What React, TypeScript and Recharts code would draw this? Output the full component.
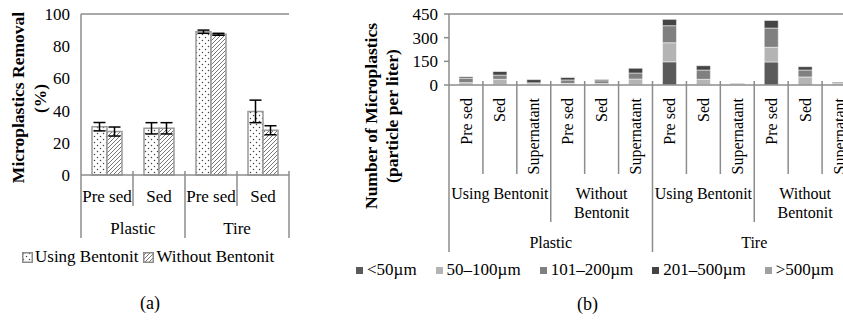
import React from 'react'
import { BarChart, Bar, XAxis, YAxis, ErrorBar, ReferenceLine, Label } from 'recharts'

const FONT = '"Liberation Serif", "Times New Roman", Times, serif'
const LINE = '#8c8c8c'

// (a) removal efficiency
const removalStages = ['Pre sed', 'Sed', 'Pre sed', 'Sed']
const removalMaterials = ['Plastic', 'Plastic', 'Tire', 'Tire']
const usingBentonit = [30, 29, 89, 39.5]
const usingBentonitErr = [2.6, 3.5, 1, 7]
const withoutBentonit = [27, 29, 87.4, 27.8]
const withoutBentonitErr = [2.8, 3.5, 0.6, 2.8]
const removalTicks = [0, 20, 40, 60, 80, 100]
const removalSeries = ['Using Bentonit', 'Without Bentonit']

// (b) particle counts by size class
const countStages = ['Pre sed', 'Sed', 'Supernatant', 'Pre sed', 'Sed', 'Supernatant', 'Pre sed', 'Sed', 'Supernatant', 'Pre sed', 'Sed', 'Supernatant']
const countTreatments = ['Using Bentonit', 'Using Bentonit', 'Using Bentonit', 'Without Bentonit', 'Without Bentonit', 'Without Bentonit', 'Using Bentonit', 'Using Bentonit', 'Using Bentonit', 'Without Bentonit', 'Without Bentonit', 'Without Bentonit']
const countMaterials = ['Plastic', 'Plastic', 'Plastic', 'Plastic', 'Plastic', 'Plastic', 'Tire', 'Tire', 'Tire', 'Tire', 'Tire', 'Tire']
const under50 = [5, 2, 5, 5, 4, 2, 147, 3, 3, 146, 0, 5]
const from50to100 = [10, 34, 3, 5, 6, 36, 121, 33, 2, 93, 51, 3]
const from101to200 = [27, 27, 6, 22, 17, 38, 108, 59, 3, 122, 44, 6]
const from201to500 = [10, 24, 20, 17, 9, 30, 40, 27, 3, 48, 21, 5]
const over500 = [3, 2, 0, 2, 2, 0, 0, 0, 0, 0, 0, 0]
const sizeClasses = ['<50µm', '50–100µm', '101–200µm', '201–500µm', '>500µm']
const sizeKeys = ['under50', 'from50to100', 'from101to200', 'from201to500', 'over500']
const sizeColors = ['#5a5a5a', '#b4b4b4', '#808080', '#444444', '#a0a0a0']
const countTicks = [0, 150, 300, 450]

const removalData = removalStages.map((stage, i) => ({
  id: i,
  stage,
  material: removalMaterials[i],
  using: usingBentonit[i],
  usingErr: usingBentonitErr[i],
  without: withoutBentonit[i],
  withoutErr: withoutBentonitErr[i],
}))

const countData = countStages.map((stage, i) => ({
  id: i,
  stage,
  treatment: countTreatments[i],
  material: countMaterials[i],
  under50: under50[i],
  from50to100: from50to100[i],
  from101to200: from101to200[i],
  from201to500: from201to500[i],
  over500: over500[i],
}))

// chart geometry
const A_W = 300
const A_H = 320
const A_MARGIN = { top: 14, right: 11, bottom: 0, left: 0 }
const A_YW = 81
const A_PLOT_W = A_W - A_MARGIN.left - A_MARGIN.right - A_YW

const B_W = 530
const B_H = 320
const B_MARGIN = { top: 14, right: 14, bottom: 0, left: 0 }
const B_YW = 109
const B_PLOT_W = B_W - B_MARGIN.left - B_MARGIN.right - B_YW

function PatternDefs({ suffix }: { suffix: string }) {
  return (
    <defs>
      <pattern id={'dots' + suffix} width="6" height="6" patternUnits="userSpaceOnUse">
        <rect width="6" height="6" fill="#fff" />
        <circle cx="1.5" cy="1.5" r="0.75" fill="#444" />
        <circle cx="4.5" cy="4.5" r="0.75" fill="#444" />
      </pattern>
      <pattern id={'hatch' + suffix} width="4" height="4" patternUnits="userSpaceOnUse">
        <rect width="4" height="4" fill="#fff" />
        <path d="M-1,1 l2,-2 M0,4 l4,-4 M3,5 l2,-2" stroke="#666" strokeWidth="0.9" />
      </pattern>
    </defs>
  )
}

function RemovalTick(props: any) {
  const { x, y, index } = props
  const i = index
  const bw = A_PLOT_W / removalStages.length
  const n = removalStages.length
  const lastInMaterial = i === n - 1 || removalMaterials[i + 1] !== removalMaterials[i]
  const firstInMaterial = i === 0 || removalMaterials[i - 1] !== removalMaterials[i]
  let span = 0
  if (firstInMaterial) {
    while (i + span < n && removalMaterials[i + span] === removalMaterials[i]) span++
  }
  return (
    <g>
      <text x={x} y={y + 21} textAnchor="middle" dominantBaseline="central" fontSize={17} fontFamily={FONT} fill="#000">
        {removalStages[i]}
      </text>
      <line x1={x + bw / 2} x2={x + bw / 2} y1={y - 4} y2={y + (lastInMaterial ? 63 : 31)} stroke={LINE} strokeWidth={1.5} />
      {i === 0 && <line x1={x - bw / 2} x2={x - bw / 2} y1={y} y2={y + 63} stroke={LINE} strokeWidth={1.5} />}
      {firstInMaterial && (
        <text x={x - bw / 2 + (span * bw) / 2} y={y + 53} textAnchor="middle" dominantBaseline="central" fontSize={17} fontFamily={FONT} fill="#000">
          {removalMaterials[i]}
        </text>
      )}
    </g>
  )
}

function CountTick(props: any) {
  const { x, y, index } = props
  const i = index
  const n = countStages.length
  const bw = B_PLOT_W / n
  const groupOf = (k: number) => countMaterials[k] + '|' + countTreatments[k]
  const lastInGroup = i === n - 1 || groupOf(i + 1) !== groupOf(i)
  const lastInMaterial = i === n - 1 || countMaterials[i + 1] !== countMaterials[i]
  const firstInGroup = i === 0 || groupOf(i - 1) !== groupOf(i)
  const firstInMaterial = i === 0 || countMaterials[i - 1] !== countMaterials[i]
  let groupSpan = 0
  if (firstInGroup) while (i + groupSpan < n && groupOf(i + groupSpan) === groupOf(i)) groupSpan++
  let matSpan = 0
  if (firstInMaterial) while (i + matSpan < n && countMaterials[i + matSpan] === countMaterials[i]) matSpan++
  const sepEnd = lastInMaterial ? 167 : lastInGroup ? 137 : 89
  const groupLabel = countTreatments[i]
  const groupLines = groupLabel.length * 7 > groupSpan * bw ? groupLabel.split(' ') : [groupLabel]
  return (
    <g>
      <text
        transform={`translate(${x},${y + 13}) rotate(-90)`}
        textAnchor="end"
        dy="0.35em"
        fontSize={16}
        fontFamily={FONT}
        fill="#000"
      >
        {countStages[i]}
      </text>
      <line x1={x + bw / 2} x2={x + bw / 2} y1={y - 4} y2={y + sepEnd} stroke={LINE} strokeWidth={1.5} />
      {i === 0 && <line x1={x - bw / 2} x2={x - bw / 2} y1={y} y2={y + 167} stroke={LINE} strokeWidth={1.5} />}
      {firstInGroup &&
        groupLines.map((line, k) => (
          <text key={k} x={x - bw / 2 + (groupSpan * bw) / 2} y={y + 108 + k * 19} textAnchor="middle" dominantBaseline="central" fontSize={16} fontFamily={FONT} fill="#000">
            {line}
          </text>
        ))}
      {firstInMaterial && (
        <text x={x - bw / 2 + (matSpan * bw) / 2} y={y + 157} textAnchor="middle" dominantBaseline="central" fontSize={16} fontFamily={FONT} fill="#000">
          {countMaterials[i]}
        </text>
      )}
    </g>
  )
}

function RemovalTitle(props: any) {
  const vb = props.viewBox || { x: 0, y: 14, width: A_YW, height: 161 }
  const cy = vb.y + vb.height / 2
  return (
    <g fontFamily={FONT} fontSize={17.5} fontWeight="bold" fill="#000">
      <text transform={`translate(${vb.x + 18},${cy + 3}) rotate(-90)`} textAnchor="middle" dominantBaseline="central">
        Microplastics Removal
      </text>
      <text transform={`translate(${vb.x + 40},${cy + 4}) rotate(-90)`} textAnchor="middle" dominantBaseline="central">
        (%)
      </text>
    </g>
  )
}

function CountTitle(props: any) {
  const vb = props.viewBox || { x: 0, y: 14 }
  return (
    <g fontFamily={FONT} fontSize={17.5} fontWeight="bold" fill="#000">
      <text transform={`translate(${vb.x + 31},${116}) rotate(-90)`} textAnchor="middle" dominantBaseline="central">
        Number of Microplastics
      </text>
      <text transform={`translate(${vb.x + 52},${116}) rotate(-90)`} textAnchor="middle" dominantBaseline="central">
        (particle per liter)
      </text>
    </g>
  )
}

const tickStyle = { fontSize: 17, fontFamily: FONT, fill: '#000' }

export default function App() {
  return (
    <div style={{ position: 'absolute', left: 0, top: 0, width: 843, height: 320, overflow: 'hidden', background: '#fff', fontFamily: FONT, color: '#000' }}>
      {/* (a) */}
      <div style={{ position: 'absolute', left: 0, top: 0 }}>
        <BarChart width={A_W} height={A_H} data={removalData} margin={A_MARGIN} barSize={15} barGap={0}>
          <PatternDefs suffix="A" />
          <XAxis dataKey="id" interval={0} height={145} tickLine={false} tickSize={0} tickMargin={0} axisLine={{ stroke: LINE, strokeWidth: 1.5 }} tick={<RemovalTick />} />
          <YAxis domain={[0, 100]} ticks={removalTicks} interval={0} width={A_YW} tickLine={false} tickSize={0} tickMargin={11} axisLine={{ stroke: LINE, strokeWidth: 1.5 }} tick={tickStyle}>
            <Label content={<RemovalTitle />} />
          </YAxis>
          <YAxis yAxisId="frame" orientation="right" domain={[0, 100]} width={0} tick={false} tickLine={false} axisLine={{ stroke: LINE, strokeWidth: 1.5 }} />
          <ReferenceLine y={100} stroke={LINE} strokeWidth={1.5} />
          <Bar dataKey="using" name={removalSeries[0]} fill="url(#dotsA)" stroke="#9a9a9a" strokeWidth={1.5} isAnimationActive={false}>
            <ErrorBar dataKey="usingErr" width={6} stroke="#000" strokeWidth={1.5} direction="y" />
          </Bar>
          <Bar dataKey="without" name={removalSeries[1]} fill="url(#hatchA)" stroke="#9a9a9a" strokeWidth={1.5} isAnimationActive={false}>
            <ErrorBar dataKey="withoutErr" width={6} stroke="#000" strokeWidth={1.5} direction="y" />
          </Bar>
        </BarChart>
        <div style={{ position: 'absolute', left: 22, top: 246, display: 'flex', alignItems: 'center', fontSize: 17, whiteSpace: 'nowrap', lineHeight: '22px' }}>
          {removalSeries.map((name, k) => (
            <span key={name} style={{ display: 'flex', alignItems: 'center', marginRight: 5 }}>
              <svg width={11} height={11} style={{ marginRight: 2 }}>
                <PatternDefs suffix={'L' + k} />
                <rect x={0.75} y={0.75} width={9.5} height={9.5} fill={`url(#${k === 0 ? 'dots' : 'hatch'}L${k})`} stroke="#8c8c8c" strokeWidth={1.5} />
              </svg>
              {name}
            </span>
          ))}
        </div>
        <div style={{ position: 'absolute', left: 0, width: A_W, top: 292, textAlign: 'center', fontSize: 18, lineHeight: '22px' }}>(a)</div>
      </div>

      {/* (b) */}
      <div style={{ position: 'absolute', left: 340, top: 0 }}>
        <BarChart width={B_W} height={B_H} data={countData} margin={B_MARGIN} barSize={14}>
          <XAxis dataKey="id" interval={0} height={235} tickLine={false} tickSize={0} tickMargin={0} axisLine={{ stroke: LINE, strokeWidth: 1.5 }} tick={<CountTick />} />
          <YAxis domain={[0, 450]} ticks={countTicks} interval={0} width={B_YW} tickSize={5} tickMargin={6} tickLine={{ stroke: LINE, strokeWidth: 1.5 }} axisLine={{ stroke: LINE, strokeWidth: 1.5 }} tick={tickStyle}>
            <Label content={<CountTitle />} />
          </YAxis>
          <ReferenceLine y={450} stroke={LINE} strokeWidth={1.5} />
          {sizeKeys.map((key, k) => (
            <Bar key={key} dataKey={key} name={sizeClasses[k]} stackId="size" fill={sizeColors[k]} stroke="#ffffff" strokeWidth={0.5} isAnimationActive={false} />
          ))}
        </BarChart>
        <div style={{ position: 'absolute', left: 16, top: 259, display: 'flex', alignItems: 'center', fontSize: 17, whiteSpace: 'nowrap', lineHeight: '22px' }}>
          {sizeClasses.map((name, k) => (
            <span key={name} style={{ display: 'flex', alignItems: 'center', marginRight: 19 }}>
              <span style={{ display: 'inline-block', width: 7, height: 7, background: sizeColors[k], marginRight: 4 }} />
              {name}
            </span>
          ))}
        </div>
        <div style={{ position: 'absolute', left: 200, width: 95, top: 293, textAlign: 'center', fontSize: 18, lineHeight: '22px' }}>(b)</div>
      </div>
    </div>
  )
}
